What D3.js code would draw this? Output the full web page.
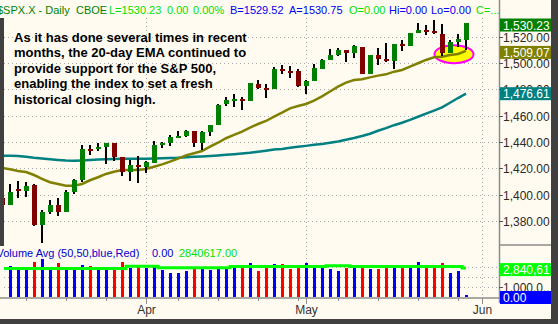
<!DOCTYPE html>
<html>
<head>
<meta charset="utf-8">
<script src="https://cdn.jsdelivr.net/npm/d3@7"></script>
<style>
  html, body { margin: 0; padding: 0; background: #fffbf0; }
  svg { display: block; font-family: "Liberation Sans", Arial, sans-serif; }
</style>
</head>
<body>
<svg id="chart" width="558" height="324"></svg>
<script>
// $SPX.X daily bars, 7 Mar - 30 May 2007
var dates = [
  "2007-03-07","2007-03-08","2007-03-09","2007-03-12","2007-03-13","2007-03-14","2007-03-15","2007-03-16",
  "2007-03-19","2007-03-20","2007-03-21","2007-03-22","2007-03-23","2007-03-26","2007-03-27","2007-03-28",
  "2007-03-29","2007-03-30","2007-04-02","2007-04-03","2007-04-04","2007-04-05","2007-04-09","2007-04-10",
  "2007-04-11","2007-04-12","2007-04-13","2007-04-16","2007-04-17","2007-04-18","2007-04-19","2007-04-20",
  "2007-04-23","2007-04-24","2007-04-25","2007-04-26","2007-04-27","2007-04-30","2007-05-01","2007-05-02",
  "2007-05-03","2007-05-04","2007-05-07","2007-05-08","2007-05-09","2007-05-10","2007-05-11","2007-05-14",
  "2007-05-15","2007-05-16","2007-05-17","2007-05-18","2007-05-21","2007-05-22","2007-05-23","2007-05-24",
  "2007-05-25","2007-05-29","2007-05-30"
];
// sessions after the last bar, only used for the date axis
var axisDates = ["2007-05-31", "2007-06-01"];

var opens = [
  1397.5, 1392.0, 1404.5, 1402.8, 1407.0, 1377.0, 1387.0, 1392.3,
  1387.0, 1402.0, 1411.0, 1435.0, 1434.5, 1436.5, 1439.0, 1428.4,
  1417.2, 1422.5, 1420.8, 1424.3, 1437.8, 1438.9, 1443.8, 1444.6,
  1448.2, 1438.9, 1447.8, 1452.8, 1468.5, 1471.5, 1472.5, 1470.7,
  1484.3, 1480.9, 1480.3, 1495.3, 1494.2, 1494.1, 1482.4, 1486.1,
  1495.6, 1502.4, 1505.6, 1509.4, 1507.3, 1512.3, 1491.5, 1505.8,
  1503.1, 1501.2, 1514.0, 1512.7, 1522.8, 1525.1, 1524.1, 1522.1,
  1507.5, 1515.6, 1517.6
];
var highs = [
  1401.0, 1408.0, 1410.0, 1409.3, 1408.0, 1388.0, 1395.7, 1397.5,
  1403.2, 1411.5, 1437.8, 1437.7, 1438.9, 1439.5, 1439.5, 1428.4,
  1426.2, 1429.2, 1425.5, 1440.6, 1440.2, 1444.9, 1448.1, 1448.7,
  1448.4, 1448.0, 1453.1, 1468.6, 1474.4, 1476.6, 1474.2, 1484.7,
  1487.3, 1483.8, 1496.6, 1498.0, 1497.3, 1495.1, 1487.3, 1499.1,
  1503.3, 1510.3, 1511.0, 1509.4, 1513.8, 1512.3, 1506.0, 1510.9,
  1514.8, 1514.2, 1517.1, 1522.8, 1529.9, 1528.4, 1532.4, 1529.3,
  1517.4, 1521.8, 1530.4
];
var lows = [
  1390.0, 1392.0, 1397.3, 1398.4, 1376.0, 1363.0, 1385.0, 1383.6,
  1387.0, 1400.7, 1409.8, 1429.9, 1433.2, 1423.3, 1425.5, 1414.0,
  1410.6, 1408.9, 1416.4, 1424.3, 1435.1, 1436.7, 1443.3, 1444.0,
  1436.2, 1433.9, 1444.2, 1452.8, 1467.2, 1466.4, 1464.5, 1470.7,
  1480.2, 1473.7, 1480.3, 1491.2, 1488.7, 1481.8, 1476.7, 1486.1,
  1495.6, 1501.8, 1505.5, 1500.7, 1503.8, 1491.4, 1491.5, 1498.3,
  1500.4, 1495.5, 1509.3, 1512.7, 1522.7, 1521.0, 1521.8, 1505.2,
  1507.5, 1512.0, 1510.1
];
var closes = [
  1392.0, 1402.0, 1402.8, 1406.6, 1377.0, 1387.2, 1392.3, 1387.0,
  1402.0, 1411.0, 1435.0, 1434.5, 1436.1, 1439.0, 1428.6, 1417.2,
  1422.5, 1420.9, 1424.6, 1437.8, 1439.4, 1443.8, 1444.6, 1448.4,
  1438.9, 1447.8, 1452.9, 1468.3, 1471.5, 1472.5, 1470.7, 1484.4,
  1480.9, 1480.4, 1495.4, 1494.3, 1494.1, 1482.4, 1486.3, 1495.9,
  1502.4, 1505.6, 1509.5, 1507.7, 1512.6, 1491.5, 1505.9, 1503.2,
  1501.2, 1514.1, 1512.8, 1522.8, 1525.1, 1524.1, 1522.3, 1507.5,
  1515.7, 1518.1, 1530.23
];
var ema20 = [
  1420.2, 1419.2, 1418.0, 1417.2, 1414.9, 1411.9, 1409.4, 1408.1,
  1406.8, 1406.8, 1408.1, 1410.9, 1413.2, 1415.7, 1417.4, 1418.7,
  1418.7, 1418.7, 1419.5, 1421.2, 1423.0, 1425.0, 1427.3, 1429.8,
  1431.4, 1433.1, 1436.4, 1439.4, 1442.8, 1445.3, 1447.8, 1450.8,
  1453.6, 1455.9, 1459.2, 1462.2, 1465.5, 1467.3, 1468.8, 1471.3,
  1474.6, 1478.3, 1481.9, 1485.0, 1487.0, 1487.5, 1489.0, 1490.3,
  1491.3, 1493.3, 1494.6, 1497.1, 1499.7, 1502.2, 1504.2, 1504.7,
  1506.0, 1506.7, 1509.07
];
var ema50 = [
  1429.6, 1429.5, 1429.3, 1428.8, 1428.0, 1427.4, 1426.8, 1426.3,
  1425.9, 1425.8, 1426.0, 1426.3, 1426.6, 1426.9, 1427.1, 1427.2,
  1427.2, 1427.2, 1427.3, 1427.5, 1427.6, 1427.8, 1428.0, 1428.4,
  1428.7, 1429.0, 1429.3, 1429.7, 1430.2, 1430.7, 1431.3, 1431.8,
  1432.5, 1433.3, 1434.2, 1434.7, 1435.5, 1436.3, 1437.0, 1437.8,
  1438.5, 1439.4, 1440.4, 1441.7, 1443.0, 1444.5, 1446.2, 1448.5,
  1450.5, 1452.7, 1454.6, 1456.7, 1459.1, 1461.5, 1463.8, 1466.2,
  1469.7, 1473.3, 1476.61
];
var volumes = [
  3000000, 3100000, 2670000, 2670000, 3470000, 3770000, 2870000, 3370000,
  2770000, 2870000, 3170000, 3100000, 2670000, 2770000, 2670000, 3470000,
  2870000, 3000000, 2870000, 2970000, 2670000, 2370000, 2370000, 2570000,
  2970000, 2770000, 2670000, 2870000, 2970000, 3000000, 2970000, 3370000,
  2570000, 3170000, 3270000, 3270000, 2770000, 3070000, 3370000, 3170000,
  3070000, 2770000, 2570000, 2870000, 2970000, 3070000, 2770000, 2770000,
  3070000, 2970000, 2870000, 2970000, 3470000, 2870000, 3070000, 3370000,
  2370000, 2570000, 170000
];
var volAvg = [
  2800000, 2800000, 2800000, 2800000, 2800000, 2800000, 2800000, 2800000,
  2800000, 2800000, 2800000, 2800000, 2800000, 2800000, 2800000, 2800000,
  3020000, 3020000, 3020000, 3020000, 2880000, 2880000, 2880000, 2880000,
  2880000, 2880000, 2880000, 2880000, 2880000, 3000000, 3000000, 3000000,
  3000000, 3000000, 3000000, 3000000, 3000000, 3000000, 3000000, 3000000,
  3000000, 3070000, 3070000, 3070000, 3000000, 3000000, 3000000, 3000000,
  3000000, 3000000, 3000000, 3000000, 3000000, 3000000, 3000000, 3000000,
  3000000, 3000000, 2840617
];
var priceTicks = [1380, 1400, 1420, 1440, 1460, 1480, 1500, 1520];
var volTicks = [1000000, 2000000, 3000000];
var volLabelTicks = [1000000];

var headerItems = [
  { text: "$SPX.X - Daily", x: -3, color: "#008000" },
  { text: "CBOE", x: 76, color: "#008000" },
  { text: "L=1530.23", x: 109, color: "#00e000" },
  { text: "0.00", x: 167, color: "#00e000" },
  { text: "0.00%", x: 193, color: "#00e000" },
  { text: "B=1529.52", x: 230, color: "#0000ee" },
  { text: "A=1530.75", x: 289, color: "#0000ee" },
  { text: "O=0.00", x: 349, color: "#00e000" },
  { text: "Hi=0.00", x: 389, color: "#0000ee" },
  { text: "Lo=0.00", x: 431, color: "#0000ee" },
  { text: "C=...", x: 476, color: "#00e000" }
];
var noteLines = [
  "As it has done several times in recent",
  "months, the 20-day EMA continued to",
  "provide support for the S&P 500,",
  "enabling the index to set a fresh",
  "historical closing high."
];

var W = 558, H = 324;
var plotLeft = 4, plotRight = 499, axisRight = 551;
var priceTop = 14, priceBottom = 245, volBottom = 298;

var svg = d3.select("#chart");
var parse = d3.timeParse("%Y-%m-%d");
var allDates = dates.concat(axisDates).map(parse);

var x = d3.scaleLinear().domain([0, 58]).range([2, 466]);
var y = d3.scaleLinear().domain([1380, 1520]).range([221, 36.5]);
var yVol = d3.scaleLinear().domain([0, 5000000]).range([296.5, 246.5]);

svg.append("rect").attr("width", W).attr("height", H).attr("fill", "#fffbf0");

svg.append("defs").append("clipPath").attr("id", "plotClip")
  .append("rect").attr("x", plotLeft).attr("y", 0)
  .attr("width", plotRight - plotLeft).attr("height", volBottom);

var plot = svg.append("g").attr("clip-path", "url(#plotClip)");

// dotted grid
var grid = plot.append("g")
  .attr("stroke", "#a8a8a8").attr("stroke-width", 1).attr("stroke-dasharray", "1,3");
grid.selectAll("line.py").data(priceTicks).join("line")
  .attr("x1", plotLeft).attr("x2", plotRight)
  .attr("y1", function (d) { return Math.round(y(d)) + 0.5; })
  .attr("y2", function (d) { return Math.round(y(d)) + 0.5; });
grid.selectAll("line.vy").data(volTicks).join("line")
  .attr("x1", plotLeft).attr("x2", plotRight)
  .attr("y1", function (d) { return Math.round(yVol(d)) + 0.5; })
  .attr("y2", function (d) { return Math.round(yVol(d)) + 0.5; });

// week / month boundaries on the date axis
var weekIdx = [], monthIdx = [];
allDates.forEach(function (d, i) {
  if (i === 0) return;
  var p = allDates[i - 1];
  if (d.getMonth() !== p.getMonth()) monthIdx.push(i);
  else if (d.getDay() < p.getDay()) weekIdx.push(i);
});
grid.selectAll("line.mx").data(monthIdx).join("line")
  .attr("x1", function (i) { return x(i) + 0.5; })
  .attr("x2", function (i) { return x(i) + 0.5; })
  .attr("y1", priceTop + 4).attr("y2", volBottom);

// highlighted EMA touch
plot.append("ellipse")
  .attr("cx", x(56.5)).attr("cy", y(1506.6))
  .attr("rx", 19.5).attr("ry", 9)
  .attr("fill", "#ffff00").attr("stroke", "#ff00ff").attr("stroke-width", 2);

// moving averages
var emaLine = d3.line()
  .x(function (d, i) { return x(i); })
  .y(function (d) { return y(d); });
plot.append("path").datum(ema50).attr("d", emaLine)
  .attr("fill", "none").attr("stroke", "#008080").attr("stroke-width", 2.5);
plot.append("path").datum(ema20).attr("d", emaLine)
  .attr("fill", "none").attr("stroke", "#808000").attr("stroke-width", 2.5);

// candles
var idx = d3.range(dates.length);
var candles = plot.append("g").attr("shape-rendering", "crispEdges");
candles.selectAll("rect.wick").data(idx).join("rect")
  .attr("x", function (i) { return x(i) - 1; })
  .attr("width", 2)
  .attr("y", function (i) { return y(highs[i]); })
  .attr("height", function (i) { return Math.max(1, y(lows[i]) - y(highs[i])); })
  .attr("fill", "#000");
candles.selectAll("rect.body").data(idx).join("rect")
  .attr("x", function (i) { return x(i) - 2.5; })
  .attr("width", 5)
  .attr("y", function (i) { return y(Math.max(opens[i], closes[i])); })
  .attr("height", function (i) { return Math.max(2, Math.abs(y(opens[i]) - y(closes[i]))); })
  .attr("fill", function (i) { return closes[i] >= opens[i] ? "#008000" : "#800000"; });

// volume
var volUp = idx.map(function (i) {
  var prev = i > 0 ? closes[i - 1] : opens[i];
  return closes[i] >= prev;
});
plot.append("g").attr("shape-rendering", "crispEdges")
  .selectAll("rect").data(idx).join("rect")
  .attr("x", function (i) { return x(i) - 1.5; })
  .attr("width", 3)
  .attr("y", function (i) { return yVol(volumes[i]); })
  .attr("height", function (i) { return yVol(0) - yVol(volumes[i]); })
  .attr("fill", function (i) { return volUp[i] ? "#0000ff" : "#ff0000"; });
plot.append("path").datum(volAvg)
  .attr("d", d3.line().curve(d3.curveStep)
    .x(function (d, i) { return x(i); })
    .y(function (d) { return yVol(d); }))
  .attr("fill", "none").attr("stroke", "#00ff00").attr("stroke-width", 3);

// date axis
svg.append("line").attr("x1", 0).attr("x2", plotRight)
  .attr("y1", volBottom).attr("y2", volBottom)
  .attr("stroke", "#8c8c8c").attr("stroke-width", 1.5);
svg.selectAll("line.wk").data(weekIdx).join("line")
  .attr("x1", function (i) { return x(i) + 0.5; })
  .attr("x2", function (i) { return x(i) + 0.5; })
  .attr("y1", volBottom).attr("y2", volBottom + 3)
  .attr("stroke", "#8c8c8c").attr("stroke-width", 1);
svg.selectAll("line.mo").data(monthIdx).join("line")
  .attr("x1", function (i) { return x(i) + 0.5; })
  .attr("x2", function (i) { return x(i) + 0.5; })
  .attr("y1", volBottom).attr("y2", volBottom + 6)
  .attr("stroke", "#8c8c8c").attr("stroke-width", 1);
svg.selectAll("text.mo").data(monthIdx).join("text")
  .attr("x", function (i) { return x(i) + 0.5; })
  .attr("y", 314)
  .attr("text-anchor", "middle")
  .attr("font-size", 12).attr("fill", "#333")
  .text(function (i) { return d3.timeFormat("%b")(allDates[i]); });

// right axis
svg.append("line").attr("x1", plotRight + 0.5).attr("x2", plotRight + 0.5)
  .attr("y1", 0).attr("y2", 303)
  .attr("stroke", "#8c8c8c").attr("stroke-width", 1.5);
svg.append("line").attr("x1", plotRight).attr("x2", axisRight)
  .attr("y1", priceBottom).attr("y2", priceBottom)
  .attr("stroke", "#8c8c8c").attr("stroke-width", 1.5);

var fmtPrice = d3.format(",.2f");
var axisG = svg.append("g").attr("font-size", 12).attr("fill", "#2a2a2a");
priceTicks.forEach(function (p) {
  var ty = Math.round(y(p)) + 0.5;
  axisG.append("line").attr("x1", plotRight).attr("x2", plotRight + 4)
    .attr("y1", ty).attr("y2", ty).attr("stroke", "#555");
  axisG.append("text").attr("x", plotRight + 4).attr("y", ty + 4.5).text(fmtPrice(p));
});
volLabelTicks.forEach(function (v) {
  var ty = Math.round(yVol(v)) + 0.5;
  axisG.append("line").attr("x1", plotRight).attr("x2", plotRight + 4)
    .attr("y1", ty).attr("y2", ty).attr("stroke", "#555");
  axisG.append("text").attr("x", plotRight + 4).attr("y", ty + 4.5)
    .text(d3.format(",")(v).slice(0, 7) + "...");
});

// value tags
function tag(cy, bg, label) {
  svg.append("rect").attr("x", plotRight + 1).attr("y", cy - 6.5)
    .attr("width", 60).attr("height", 13).attr("fill", bg);
  svg.append("text").attr("x", plotRight + 4).attr("y", cy + 4.5)
    .attr("font-size", 12).attr("fill", "#fff").text(label);
}
var last = dates.length - 1;
tag(y(closes[last]) + 2, "#008000", fmtPrice(closes[last]));
tag(y(ema20[last]) + 1.5, "#808000", fmtPrice(ema20[last]));
tag(y(ema50[last]), "#008080", fmtPrice(ema50[last]));
tag(yVol(volAvg[last]) + 1.5, "#00ff00", d3.format(",")(volAvg[last]));
tag(yVol(volumes[last] * 0) + 1, "#0000ff", "0.00");

// header
svg.append("g").attr("font-size", 11)
  .selectAll("text").data(headerItems).join("text")
  .attr("x", function (d) { return d.x; }).attr("y", 14)
  .attr("fill", function (d) { return d.color; })
  .text(function (d) { return d.text; });

// volume caption
var vcap = svg.append("text").attr("x", -3.5).attr("y", 256.5).attr("font-size", 11);
vcap.append("tspan").attr("fill", "#0000cc").text("Volume Avg (50,50,blue,Red)");
vcap.append("tspan").attr("x", 152).attr("fill", "#0000cc").text("0.00");
vcap.append("tspan").attr("x", 179).attr("fill", "#00e000").text(d3.format(".2f")(volAvg[last]));

// note
svg.append("g").attr("font-size", 13).attr("font-weight", "bold").attr("fill", "#000")
  .selectAll("text").data(noteLines).join("text")
  .attr("x", 14)
  .attr("y", function (d, i) { return 41.5 + i * 15.5; })
  .text(function (d) { return d; });

// window frame
svg.append("rect").attr("x", 0).attr("y", 18).attr("width", 4).attr("height", 228).attr("fill", "#404040");
svg.append("rect").attr("x", axisRight).attr("y", 0).attr("width", W - axisRight).attr("height", H).attr("fill", "#404040");
svg.append("rect").attr("x", 0).attr("y", 319).attr("width", W).attr("height", H - 319).attr("fill", "#404040");
</script>
</body>
</html>
